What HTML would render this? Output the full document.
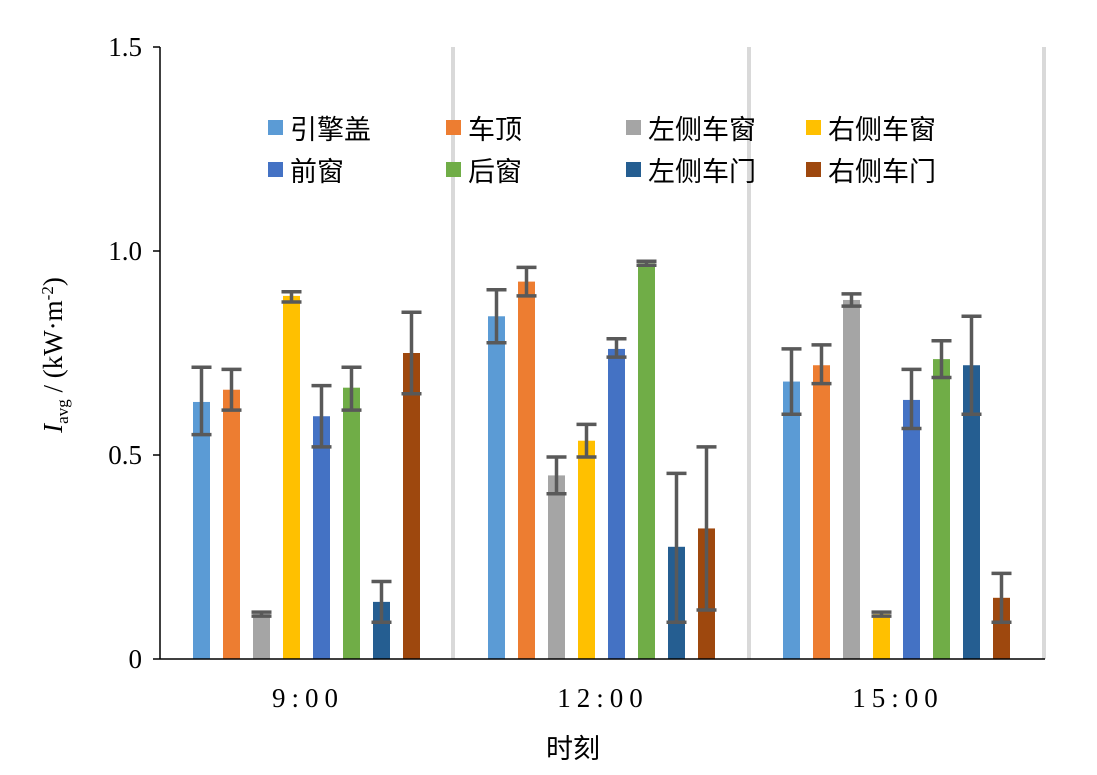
<!DOCTYPE html>
<html><head><meta charset="utf-8"><style>body{margin:0;background:#fff}svg{display:block}</style></head><body>
<svg width="1097" height="775" xmlns="http://www.w3.org/2000/svg">
<rect width="1097" height="775" fill="#fff"/>
<g stroke="#D9D9D9" stroke-width="4">
<line x1="453" y1="47" x2="453" y2="659"/><line x1="749" y1="47" x2="749" y2="659"/><line x1="1044" y1="47" x2="1044" y2="659"/>
</g>
<g>
<rect x="193" y="401.96" width="17" height="257.04" fill="#5B9BD5"/>
<rect x="223" y="389.72" width="17" height="269.28" fill="#ED7D31"/>
<rect x="253" y="614.12" width="17" height="44.88" fill="#A5A5A5"/>
<rect x="283" y="295.88" width="17" height="363.12" fill="#FFC000"/>
<rect x="313" y="416.24" width="17" height="242.76" fill="#4472C4"/>
<rect x="343" y="387.68" width="17" height="271.32" fill="#70AD47"/>
<rect x="373" y="601.88" width="17" height="57.12" fill="#255E91"/>
<rect x="403" y="353" width="17" height="306" fill="#9E480E"/>
<rect x="488" y="316.28" width="17" height="342.72" fill="#5B9BD5"/>
<rect x="518" y="281.6" width="17" height="377.4" fill="#ED7D31"/>
<rect x="548" y="475.4" width="17" height="183.6" fill="#A5A5A5"/>
<rect x="578" y="440.72" width="17" height="218.28" fill="#FFC000"/>
<rect x="608" y="348.92" width="17" height="310.08" fill="#4472C4"/>
<rect x="638" y="263.24" width="17" height="395.76" fill="#70AD47"/>
<rect x="668" y="546.8" width="17" height="112.2" fill="#255E91"/>
<rect x="698" y="528.44" width="17" height="130.56" fill="#9E480E"/>
<rect x="783" y="381.56" width="17" height="277.44" fill="#5B9BD5"/>
<rect x="813" y="365.24" width="17" height="293.76" fill="#ED7D31"/>
<rect x="843" y="299.96" width="17" height="359.04" fill="#A5A5A5"/>
<rect x="873" y="614.12" width="17" height="44.88" fill="#FFC000"/>
<rect x="903" y="399.92" width="17" height="259.08" fill="#4472C4"/>
<rect x="933" y="359.12" width="17" height="299.88" fill="#70AD47"/>
<rect x="963" y="365.24" width="17" height="293.76" fill="#255E91"/>
<rect x="993" y="597.8" width="17" height="61.2" fill="#9E480E"/>
</g>
<g stroke="#595959" stroke-width="3.5" fill="none">
<path d="M201.5 434.6V367.28M191.5 434.6h20M191.5 367.28h20"/>
<path d="M231.5 410.12V369.32M221.5 410.12h20M221.5 369.32h20"/>
<path d="M261.5 616.16V612.08M251.5 616.16h20M251.5 612.08h20"/>
<path d="M291.5 302V291.8M281.5 302h20M281.5 291.8h20"/>
<path d="M321.5 446.84V385.64M311.5 446.84h20M311.5 385.64h20"/>
<path d="M351.5 410.12V367.28M341.5 410.12h20M341.5 367.28h20"/>
<path d="M381.5 622.28V581.48M371.5 622.28h20M371.5 581.48h20"/>
<path d="M411.5 393.8V312.2M401.5 393.8h20M401.5 312.2h20"/>
<path d="M496.5 342.8V289.76M486.5 342.8h20M486.5 289.76h20"/>
<path d="M526.5 295.88V267.32M516.5 295.88h20M516.5 267.32h20"/>
<path d="M556.5 493.76V457.04M546.5 493.76h20M546.5 457.04h20"/>
<path d="M586.5 457.04V424.4M576.5 457.04h20M576.5 424.4h20"/>
<path d="M616.5 357.08V338.72M606.5 357.08h20M606.5 338.72h20"/>
<path d="M646.5 265.28V261.2M636.5 265.28h20M636.5 261.2h20"/>
<path d="M676.5 622.28V473.36M666.5 622.28h20M666.5 473.36h20"/>
<path d="M706.5 610.04V446.84M696.5 610.04h20M696.5 446.84h20"/>
<path d="M791.5 414.2V348.92M781.5 414.2h20M781.5 348.92h20"/>
<path d="M821.5 383.6V344.84M811.5 383.6h20M811.5 344.84h20"/>
<path d="M851.5 306.08V293.84M841.5 306.08h20M841.5 293.84h20"/>
<path d="M881.5 616.16V612.08M871.5 616.16h20M871.5 612.08h20"/>
<path d="M911.5 428.48V369.32M901.5 428.48h20M901.5 369.32h20"/>
<path d="M941.5 377.48V340.76M931.5 377.48h20M931.5 340.76h20"/>
<path d="M971.5 414.2V316.28M961.5 414.2h20M961.5 316.28h20"/>
<path d="M1001.5 622.28V573.32M991.5 622.28h20M991.5 573.32h20"/>
</g>
<g stroke="#000" stroke-width="1.5">
<line x1="160" y1="47" x2="160" y2="659"/><line x1="160" y1="659" x2="1045" y2="659"/>
<line x1="153" y1="47" x2="160" y2="47"/><line x1="153" y1="251" x2="160" y2="251"/><line x1="153" y1="455" x2="160" y2="455"/><line x1="153" y1="659" x2="160" y2="659"/>
</g>
<g font-family="Liberation Serif, serif" font-size="27" text-anchor="end" fill="#000">
<text x="142" y="56">1.5</text><text x="142" y="260">1.0</text><text x="142" y="464">0.5</text><text x="142" y="668">0</text>
</g>
<g font-family="Liberation Serif, serif" font-size="27" text-anchor="middle" fill="#000" letter-spacing="6">
<text x="308" y="707">9:00</text><text x="603" y="707">12:00</text><text x="898" y="707">15:00</text>
</g>
<text x="573" y="758" font-family="Liberation Sans, Noto Sans CJK SC, sans-serif" font-size="27" text-anchor="middle">时刻</text>
<text transform="translate(62,355) rotate(-90)" font-family="Liberation Serif, serif" font-size="27" text-anchor="middle"><tspan font-style="italic">I</tspan><tspan font-size="17" dy="6">avg</tspan><tspan dy="-6"> / (kW·m</tspan><tspan font-size="17" dy="-9">-2</tspan><tspan dy="9">)</tspan></text>
<g font-family="Liberation Sans, Noto Sans CJK SC, sans-serif" font-size="27" fill="#000">
<rect x="268" y="120" width="15" height="15" fill="#5B9BD5"/><text x="290" y="139">引擎盖</text>
<rect x="446" y="120" width="15" height="15" fill="#ED7D31"/><text x="468" y="139">车顶</text>
<rect x="626" y="120" width="15" height="15" fill="#A5A5A5"/><text x="648" y="139">左侧车窗</text>
<rect x="806" y="120" width="15" height="15" fill="#FFC000"/><text x="828" y="139">右侧车窗</text>
<rect x="268" y="162" width="15" height="15" fill="#4472C4"/><text x="290" y="181">前窗</text>
<rect x="446" y="162" width="15" height="15" fill="#70AD47"/><text x="468" y="181">后窗</text>
<rect x="626" y="162" width="15" height="15" fill="#255E91"/><text x="648" y="181">左侧车门</text>
<rect x="806" y="162" width="15" height="15" fill="#9E480E"/><text x="828" y="181">右侧车门</text>
</g>
</svg>
</body></html>
